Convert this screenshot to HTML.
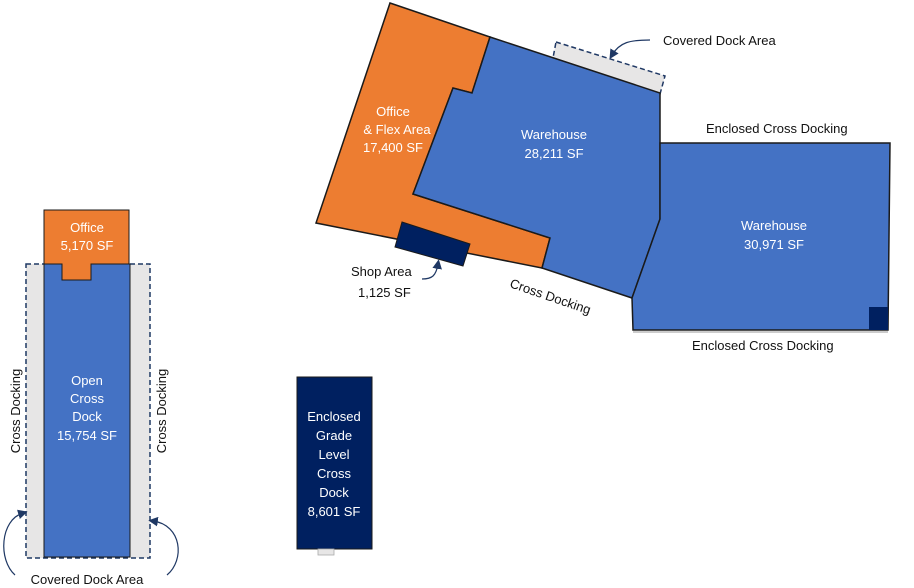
<!DOCTYPE html>
<html><head><style>
body{margin:0;background:#fff;}
svg{display:block;font-family:"Liberation Sans",sans-serif;}
</style></head><body>
<svg width="914" height="588" viewBox="0 0 914 588">
<defs><marker id="a" markerWidth="8" markerHeight="8" refX="4" refY="4" orient="auto"><path d="M0,0L8,4L0,8z" fill="#1f3864"/></marker></defs>
<!-- top complex -->
<polygon points="556,42 665,76 660,94 553,58" fill="#e7e6e6" stroke="#1f3864" stroke-width="1.5" stroke-dasharray="5,3"/>
<polygon points="390,3 490,37 472,93 453,88 413,194 550,238 542,268 316,223" fill="#ed7d31" stroke="#1a1a1a" stroke-width="1.5"/>
<polygon points="490,37 660,93 660,219 632,298 542,268 550,238 413,194 453,88 472,93" fill="#4472c4" stroke="#1a1a1a" stroke-width="1.5"/>
<polygon points="402,222 470,244 463,266 395,247" fill="#002060" stroke="#1a1a1a" stroke-width="1"/>
<polygon points="660,143 890,143 888,330 633,330 632,298 660,219" fill="#4472c4" stroke="#1a1a1a" stroke-width="1.5"/>
<line x1="633" y1="332" x2="888" y2="332" stroke="#ccc" stroke-width="2"/>
<rect x="869" y="307" width="19" height="23" fill="#002060"/>
<g fill="#fff" font-size="13" text-anchor="middle">
<text x="393" y="116">Office</text><text x="397" y="134">&amp; Flex Area</text><text x="393" y="152">17,400 SF</text>
<text x="554" y="139">Warehouse</text><text x="554" y="158">28,211 SF</text>
<text x="774" y="230">Warehouse</text><text x="774" y="249">30,971 SF</text>
</g>
<g fill="#111" font-size="13">
<text x="663" y="45">Covered Dock Area</text>
<text x="706" y="133">Enclosed Cross Docking</text>
<text x="692" y="350">Enclosed Cross Docking</text>
<text x="351" y="276">Shop Area</text><text x="358" y="297">1,125 SF</text>
<text x="0" y="0" transform="translate(509,287) rotate(19)">Cross Docking</text>
</g>
<path d="M650,40 C630,40 620,42 612,55" fill="none" stroke="#1f3864" stroke-width="1.2" marker-end="url(#a)"/>
<path d="M422,279 C432,279 436,276 438,264" fill="none" stroke="#1f3864" stroke-width="1.2" marker-end="url(#a)"/>
<!-- left building -->
<rect x="26" y="264" width="124" height="294" fill="#e7e6e6" stroke="#1f3864" stroke-width="1.5" stroke-dasharray="5,3"/>
<rect x="44" y="264" width="86" height="293" fill="#4472c4" stroke="#1a1a1a" stroke-width="1"/>
<path d="M44,264V210H129V264H91V280H62V264Z" fill="#ed7d31" stroke="#1a1a1a" stroke-width="1"/>
<g fill="#fff" font-size="13" text-anchor="middle">
<text x="87" y="232">Office</text><text x="87" y="250">5,170 SF</text>
<text x="87" y="385">Open</text><text x="87" y="403">Cross</text><text x="87" y="421">Dock</text><text x="87" y="440">15,754 SF</text>
</g>
<g fill="#111" font-size="13" text-anchor="middle">
<text transform="translate(20,411) rotate(-90)">Cross Docking</text>
<text transform="translate(166,411) rotate(-90)">Cross Docking</text>
<text x="87" y="584">Covered Dock Area</text>
</g>
<path d="M15,575 C-2,560 0,520 23,513" fill="none" stroke="#1f3864" stroke-width="1.2" marker-end="url(#a)"/>
<path d="M167,575 C185,560 182,525 153,521" fill="none" stroke="#1f3864" stroke-width="1.2" marker-end="url(#a)"/>
<!-- enclosed grade -->
<rect x="297" y="377" width="75" height="172" fill="#002060" stroke="#1a1a1a" stroke-width="1"/>
<rect x="318" y="549" width="16" height="6" fill="#e7e6e6" stroke="#aaa" stroke-width="0.8"/>
<g fill="#fff" font-size="13" text-anchor="middle">
<text x="334" y="421">Enclosed</text><text x="334" y="440">Grade</text><text x="334" y="459">Level</text><text x="334" y="478">Cross</text><text x="334" y="497">Dock</text><text x="334" y="516">8,601 SF</text>
</g>
</svg>
</body></html>
